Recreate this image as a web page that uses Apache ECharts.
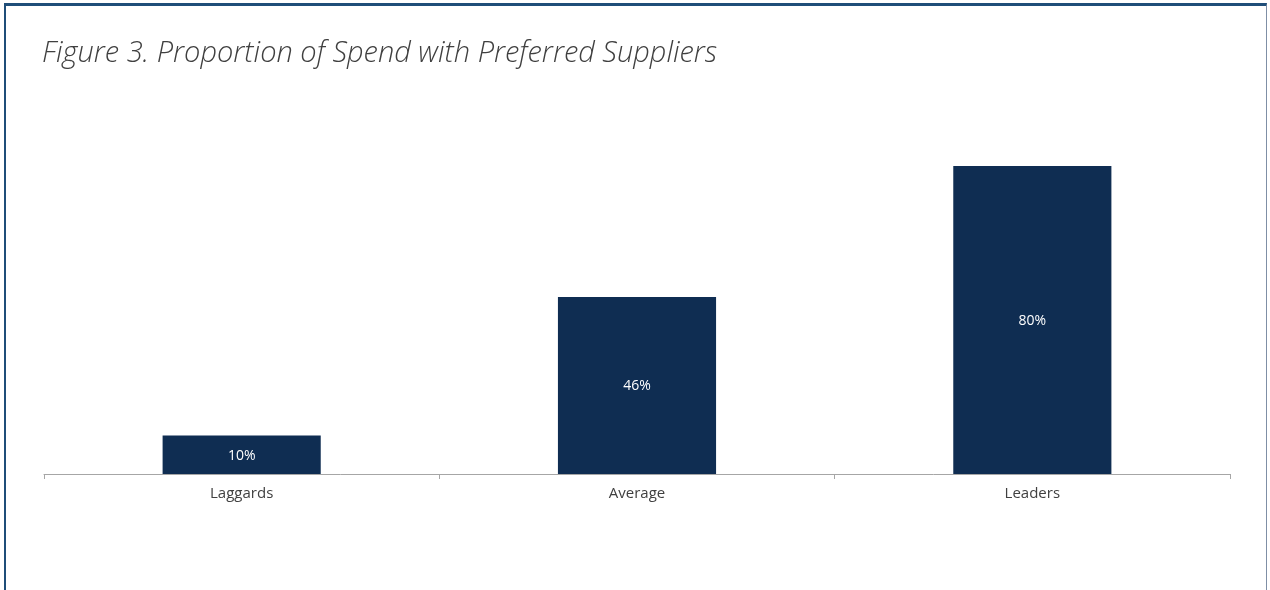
<!DOCTYPE html>
<html><head><meta charset="utf-8">
<script src="https://cdn.jsdelivr.net/npm/echarts@6/dist/echarts.min.js"></script>
<style>
html,body{margin:0;padding:0;background:#fff;}
#frame{position:absolute;left:4px;top:3px;width:1263px;height:600px;border-top:3px solid #1f4e79;border-left:2px solid #1f4e79;border-right:1px solid #7f8fa6;box-sizing:border-box;}
#c{position:absolute;left:0;top:0;width:1270px;height:590px;}
</style></head>
<body>
<div id="c"></div>
<div id="frame"></div>
<script>
const categories = ['Laggards', 'Average', 'Leaders'];
const values = [10, 46, 80];
const titleText = 'Figure 3. Proportion of Spend with Preferred Suppliers';

const chart = echarts.init(document.getElementById('c'));
chart.setOption({
  animation: false,
  title: {
    text: titleText,
    left: 37, top: 34,
    textStyle: {fontFamily: 'Open Sans', fontStyle: 'italic', fontWeight: 300, fontSize: 29, color: '#404040'}
  },
  grid: {left: 44, right: 40, top: 89, bottom: 116},
  xAxis: {
    type: 'category', data: categories,
    axisLine: {lineStyle: {color: '#a6a6a6', width: 1}},
    axisTick: {show: true, length: 5, lineStyle: {color: '#a6a6a6'}},
    axisLabel: {fontFamily: 'Open Sans', fontSize: 15, color: '#404040', margin: 12}
  },
  yAxis: {type: 'value', min: 0, max: 100, show: false, splitLine: {show: false}},
  series: [{
    type: 'bar', data: values, barWidth: '40%',
    itemStyle: {color: '#0f2d52'},
    label: {show: true, position: 'inside', offset: [0, 1], formatter: '{c}%', color: '#ffffff', fontFamily: 'Open Sans', fontSize: 14}
  }]
});
</script>
</body></html>
